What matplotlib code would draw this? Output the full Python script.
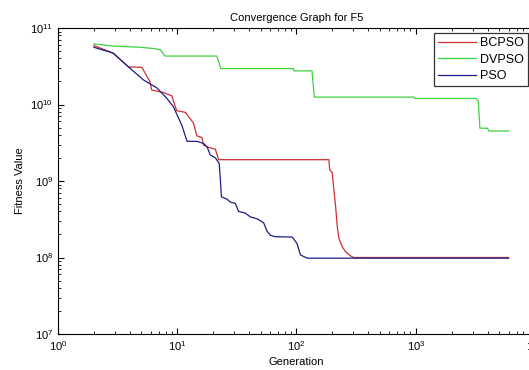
import matplotlib
matplotlib.use("Agg")
import matplotlib.pyplot as plt

plt.rcParams['font.family'] = ['Liberation Sans', 'DejaVu Sans']

# generation / fitness break points
gen_bcpso = [2, 2.9, 3.9, 5.05, 5.9, 6.1, 7.7, 9.0, 9.9, 11.7, 13.7, 14.6, 16.1, 16.6,
             18.3, 20.9, 22.2, 187, 190, 199, 206, 213, 220, 227, 242, 258, 284, 302, 6000]
fit_bcpso = [5.9e10, 4.7e10, 3.1e10, 3.06e10, 2.0e10, 1.55e10, 1.43e10, 1.30e10, 8.3e9,
             7.9e9, 5.7e9, 3.9e9, 3.7e9, 2.95e9, 2.75e9, 2.6e9, 1.9e9, 1.9e9, 1.4e9, 1.3e9,
             7.6e8, 4.6e8, 2.5e8, 1.78e8, 1.38e8, 1.19e8, 1.05e8, 1.0e8, 1.0e8]

gen_dvpso = [2, 2.9, 4.9, 6.3, 7.2, 7.9, 21.5, 23.2, 93.7, 95, 135, 141, 960, 980,
             3200, 3350, 3450, 4000, 4100, 6000]
fit_dvpso = [6.2e10, 5.8e10, 5.6e10, 5.4e10, 5.2e10, 4.3e10, 4.3e10, 2.95e10, 2.95e10,
             2.75e10, 2.75e10, 1.25e10, 1.25e10, 1.2e10, 1.2e10, 1.1e10, 4.9e9, 4.9e9,
             4.5e9, 4.5e9]

gen_pso = [2, 2.9, 3.9, 5.2, 6.75, 8.2, 9.3, 10.9, 12.1, 14.6, 16.6, 17.8, 18.9, 20.9,
           22.5, 23.5, 26.1, 27.9, 30.7, 32.7, 37.3, 41, 46.8, 53, 56.7, 60.5, 66.6,
           92, 101, 108, 123, 6000]
fit_pso = [5.6e10, 4.7e10, 3.1e10, 2.1e10, 1.65e10, 1.2e10, 9.3e9, 5.4e9, 3.3e9, 3.3e9,
           3.1e9, 2.8e9, 2.2e9, 2.0e9, 1.7e9, 6.2e8, 5.8e8, 5.3e8, 5.1e8, 4.0e8, 3.8e8,
           3.4e8, 3.2e8, 2.85e8, 2.2e8, 1.95e8, 1.87e8, 1.85e8, 1.53e8, 1.08e8, 9.8e7, 9.8e7]

fig = plt.figure(figsize=(5.29, 3.70), dpi=100)
ax = fig.add_axes([0.1096, 0.0973, 0.9017, 0.827])

ax.plot(gen_bcpso, fit_bcpso, color="#cc3030", lw=0.9, label="BCPSO")
ax.plot(gen_dvpso, fit_dvpso, color="#3fd23f", lw=0.9, label="DVPSO")
ax.plot(gen_pso, fit_pso, color="#1c1c8c", lw=0.9, label="PSO")

ax.set_xscale("log")
ax.set_yscale("log")
ax.set_xlim(1, 1e4)
ax.set_ylim(1e7, 1e11)

ax.tick_params(which="both", direction="in", top=True, right=True, labelsize=8)
ax.tick_params(which="major", length=4)
ax.tick_params(which="minor", length=2)
for s in ax.spines.values():
    s.set_linewidth(0.8)

ax.set_title("Convergence Graph for F5", fontsize=8, pad=5)
ax.set_xlabel("Generation", fontsize=8, labelpad=3)
ax.set_ylabel("Fitness Value", fontsize=8, labelpad=4)

leg = ax.legend(loc="upper right", bbox_to_anchor=(0.985, 0.984), fontsize=9,
                fancybox=False, edgecolor="#333333", framealpha=1,
                handlelength=3.0, borderpad=0.35, labelspacing=0.35,
                handletextpad=0.3, borderaxespad=0)
leg.get_frame().set_linewidth(0.9)

fig.savefig("out.png", dpi=100)
